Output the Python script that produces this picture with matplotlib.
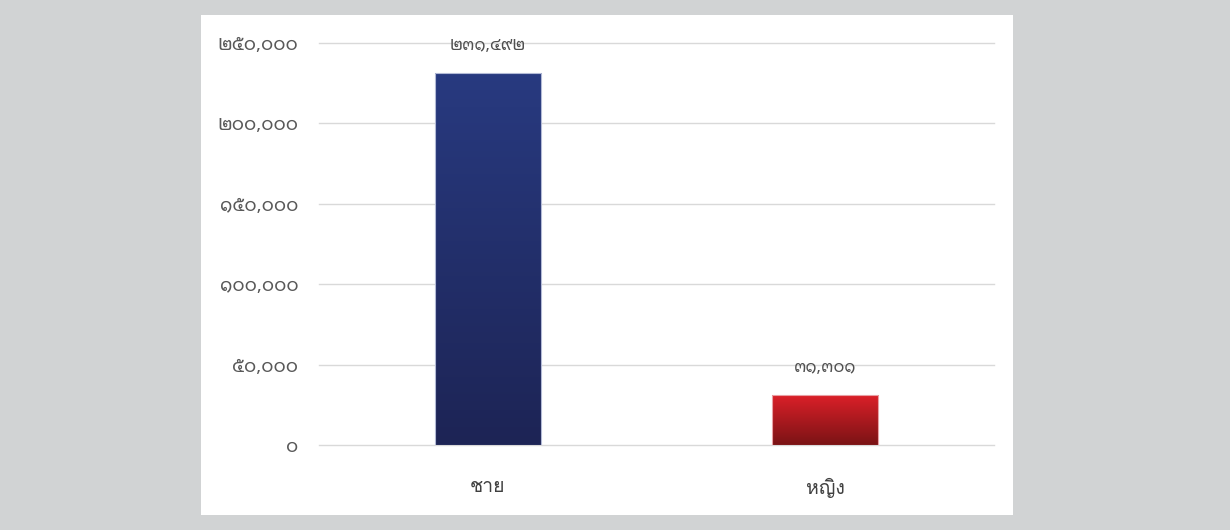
import numpy as np
import matplotlib
matplotlib.use("Agg")
import matplotlib.pyplot as plt
from matplotlib.patches import Rectangle
from matplotlib.colors import LinearSegmentedColormap

plt.rcParams['font.family'] = ['Noto Sans Thai Looped', 'Loma', 'DejaVu Sans']

categories = ['ชาย', 'หญิง']
values = [231492, 31301]
yticks = [0, 50000, 100000, 150000, 200000, 250000]

# สีไล่ระดับ (บน -> ล่าง)
grad_colors = [('#283a80', '#1d2455'), ('#dd2029', '#7a1315')]
edge_colors = ['#b3bad6', '#e8a0a4']

THAI_DIGITS = str.maketrans('0123456789', '๐๑๒๓๔๕๖๗๘๙')


def thai_num(v):
    return f"{int(v):,}".translate(THAI_DIGITS)


fig = plt.figure(figsize=(12.3, 5.3), dpi=100)
fig.patch.set_facecolor('#d1d3d4')
fig.patches.append(Rectangle((201 / 1230, 15 / 530), 812 / 1230, 500 / 530,
                             transform=fig.transFigure, facecolor='white',
                             edgecolor='none', zorder=-1))

ax = fig.add_axes([319 / 1230, 85 / 530, 675 / 1230, 402 / 530])
ax.set_facecolor('none')

x = np.arange(len(categories))
bars = ax.bar(x, values, width=0.315, color='none', zorder=3)

for b, (top, bot), ec in zip(bars, grad_colors, edge_colors):
    cmap = LinearSegmentedColormap.from_list('g', [bot, top])
    x0, y0 = b.get_x(), b.get_y()
    w, h = b.get_width(), b.get_height()
    grad = np.linspace(0, 1, 256).reshape(-1, 1)
    im = ax.imshow(grad, cmap=cmap, origin='lower', aspect='auto',
                   extent=[x0, x0 + w, y0, y0 + h], zorder=2)
    im.set_clip_path(b)
    b.set_edgecolor(ec)
    b.set_linewidth(0.8)
ax.set_xlim(-0.5, len(categories) - 0.5)
ax.set_ylim(0, 250000)

for b, v in zip(bars, values):
    ax.annotate(thai_num(v), (b.get_x() + b.get_width() / 2, v),
                xytext=(0, 19), textcoords='offset points',
                ha='center', va='center', fontsize=12, color='#505050')

ax.set_yticks(yticks)
ax.set_yticklabels([thai_num(t) for t in yticks])
ax.set_xticks(x)
ax.set_xticklabels(categories, family=['Loma', 'DejaVu Sans'])
ax.tick_params(axis='y', length=0, pad=15, labelsize=13.5, labelcolor='#595959')
ax.tick_params(axis='x', length=0, pad=24, labelsize=14, labelcolor='#404040')
ax.grid(axis='y', color='#d9d9d9', linewidth=1.0, zorder=0)
for gl in ax.get_ygridlines():
    gl.set_clip_on(False)
ax.set_axisbelow(True)
for s in ax.spines.values():
    s.set_visible(False)

fig.savefig('out.png', dpi=100, facecolor=fig.get_facecolor())
